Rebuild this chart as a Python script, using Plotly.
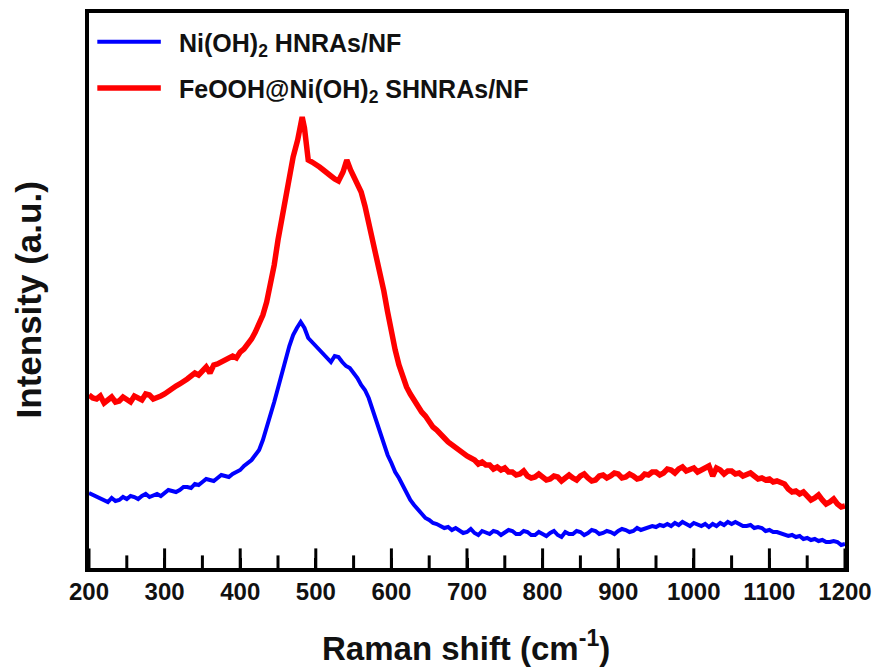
import plotly.graph_objects as go

# Raman spectra: Ni(OH)2 HNRAs/NF and FeOOH@Ni(OH)2 SHNRAs/NF (intensity offset, a.u.)
shift_ni = [200, 205, 210, 215, 220, 225, 230, 235, 240, 245, 250, 255, 260, 265, 270, 275, 280, 285, 290, 295,
            300, 305, 310, 315, 320, 325, 330, 335, 340, 345, 350, 355, 360, 365, 370, 375, 380, 385, 390, 395,
            400, 405, 410, 415, 420, 425, 430, 435, 440, 445, 450, 455, 460, 465, 470, 475, 480, 485, 490, 495,
            500, 505, 510, 515, 520, 525, 530, 535, 540, 545, 550, 555, 560, 565, 570, 575, 580, 585, 590, 595,
            600, 605, 610, 615, 620, 625, 630, 635, 640, 645, 650, 655, 660, 665, 670, 675, 680, 685, 690, 695,
            700, 705, 710, 715, 720, 725, 730, 735, 740, 745, 750, 755, 760, 765, 770, 775, 780, 785, 790, 795,
            800, 805, 810, 815, 820, 825, 830, 835, 840, 845, 850, 855, 860, 865, 870, 875, 880, 885, 890, 895,
            900, 905, 910, 915, 920, 925, 930, 935, 940, 945, 950, 955, 960, 965, 970, 975, 980, 985, 990, 995,
            1000, 1005, 1010, 1015, 1020, 1025, 1030, 1035, 1040, 1045, 1050, 1055, 1060, 1065, 1070, 1075,
            1080, 1085, 1090, 1095, 1100, 1105, 1110, 1115, 1120, 1125, 1130, 1135, 1140, 1145, 1150, 1155,
            1160, 1165, 1170, 1175, 1180, 1185, 1190, 1195, 1200]
intensity_ni = [75, 73, 71, 69, 67, 66, 70, 67, 68, 71, 69, 72, 71, 69, 72, 74, 71, 73, 74, 72,
                75, 78, 77, 76, 78, 81, 81, 80, 84, 83, 86, 89, 88, 87, 90, 93, 92, 91, 94, 96,
                98, 102, 105, 108, 113, 118, 128, 140, 152, 166, 180, 196, 208, 222, 233, 240, 246, 240, 230, 226,
                222, 218, 214, 209, 206, 212, 211, 206, 202, 200, 195, 190, 183, 178, 170, 158, 146, 134, 122, 113,
                105, 96, 90, 82, 75, 68, 63, 59, 55, 50, 48, 45, 44, 42, 40, 41, 38, 40, 38, 35,
                36, 39, 35, 33, 37, 35, 34, 37, 36, 33, 35, 38, 37, 34, 34, 37, 36, 33, 33, 36,
                34, 32, 35, 37, 33, 31, 36, 34, 34, 37, 36, 33, 35, 38, 37, 34, 35, 37, 36, 34,
                37, 39, 38, 36, 37, 40, 38, 39, 40, 42, 41, 43, 42, 44, 42, 45, 43, 46, 44, 42,
                45, 43, 42, 44, 41, 44, 42, 45, 43, 46, 44, 46, 44, 42, 42, 43,
                40, 41, 40, 37, 38, 36, 36, 35, 34, 32, 33, 31, 32, 29, 30, 28,
                29, 27, 28, 26, 26, 27, 26, 23, 24]

shift_fe = [200, 205, 210, 215, 220, 225, 230, 235, 240, 245, 250, 255, 260, 265, 270, 275, 280, 285, 290, 295,
            300, 305, 310, 315, 320, 325, 330, 335, 340, 345, 350, 355, 360, 365, 370, 375, 380, 385, 390, 395,
            400, 405, 410, 415, 420, 425, 430, 435, 440, 445, 450, 455, 460, 465, 470, 476, 479, 482, 485, 487,
            490, 495, 500, 505, 510, 515, 520, 525, 530, 536, 541, 546, 552, 556, 560, 565, 570, 575, 580, 585,
            590, 595, 600, 605, 610, 615, 620, 625, 630, 635, 640, 645, 650, 655, 660, 665, 670, 675, 680, 685,
            690, 695, 700, 705, 710, 715, 720, 725, 730, 735, 740, 745, 750, 755, 760, 765, 770, 775, 780, 785,
            790, 795, 800, 805, 810, 815, 820, 825, 830, 835, 840, 845, 850, 855, 860, 865, 870, 875, 880, 885,
            890, 895, 900, 905, 910, 915, 920, 925, 930, 935, 940, 945, 950, 955, 960, 965, 970, 975, 980, 985,
            990, 995, 1000, 1005, 1010, 1015, 1020, 1025, 1030, 1035, 1040, 1045, 1050, 1055, 1060, 1065,
            1070, 1075, 1080, 1085, 1090, 1095, 1100, 1105, 1110, 1115, 1120, 1125, 1130, 1135, 1140, 1145,
            1150, 1155, 1160, 1165, 1170, 1175, 1180, 1185, 1190, 1195, 1200]
intensity_fe = [173, 170, 169, 172, 165, 168, 171, 166, 167, 171, 169, 166, 172, 170, 168, 174, 173, 169, 170, 172,
                174, 177, 179, 182, 184, 186, 189, 192, 195, 193, 198, 201, 195, 203, 204, 206, 207, 209, 212, 210,
                216, 219, 223, 229, 236, 244, 253, 266, 283, 303, 328, 350, 375, 392, 411, 428, 440, 451, 440, 428,
                408, 406, 404, 401, 398, 394, 392, 389, 387, 396, 408, 398, 388, 383, 376, 362, 346, 330, 313, 296,
                277, 256, 235, 218, 203, 191, 181, 174, 168, 161, 156, 152, 146, 141, 138, 133, 130, 126, 123, 121,
                117, 114, 112, 110, 108, 104, 106, 103, 103, 99, 101, 98, 100, 96, 96, 93, 94, 97, 92, 90,
                91, 94, 91, 88, 89, 92, 91, 87, 90, 93, 90, 88, 92, 94, 90, 87, 88, 92, 93, 90,
                92, 95, 94, 90, 91, 94, 92, 89, 90, 94, 93, 96, 96, 93, 95, 99, 98, 95, 99, 101,
                97, 99, 100, 96, 98, 101, 102, 92, 100, 98, 94, 97, 97, 94, 95, 92,
                93, 95, 92, 89, 90, 88, 89, 86, 87, 85, 84, 79, 76, 77, 74, 76,
                72, 68, 70, 73, 68, 64, 66, 69, 64, 61, 62]

major_ticks = [200, 300, 400, 500, 600, 700, 800, 900, 1000, 1100, 1200]
minor_ticks = [250, 350, 450, 550, 650, 750, 850, 950, 1050, 1150]

series = [
    ("Ni(OH)<sub>2</sub> HNRAs/NF", shift_ni, intensity_ni, "#0000FF", 4),
    ("FeOOH@Ni(OH)<sub>2</sub> SHNRAs/NF", shift_fe, intensity_fe, "#FF0000", 5.5),
]

FONT = "Liberation Sans, Arial, sans-serif"
INK = "#111111"

fig = go.Figure()
for name, xs, ys, color, width in series:
    fig.add_trace(go.Scatter(x=xs, y=ys, mode="lines", name=name,
                             line=dict(color=color, width=width),
                             showlegend=False))

# Inward tick marks on the bottom axis: vertical line markers sitting on the
# baseline, clipped to the plot area so only the upper half shows.
for ticks_at, size in [(major_ticks, 28), (minor_ticks, 18)]:
    fig.add_trace(go.Scatter(
        x=ticks_at, y=[0] * len(ticks_at), mode="markers",
        marker=dict(symbol="line-ns", size=size,
                    line=dict(color="black", width=3)),
        cliponaxis=True, hoverinfo="skip", showlegend=False))

# Hand-placed legend (long line samples) in paper coordinates
legend_rows = [0.948, 0.865]
for (name, _, _, color, width), yrow in zip(series, legend_rows):
    fig.add_shape(type="line", xref="paper", yref="paper",
                  x0=0.011, x1=0.095, y0=yrow, y1=yrow,
                  line=dict(color=color, width=width))
    fig.add_annotation(xref="paper", yref="paper", x=0.116, y=yrow - 0.006,
                       xanchor="left", yanchor="middle", showarrow=False,
                       text="<b>" + name + "</b>",
                       font=dict(family=FONT, size=25, color=INK))

# Axis titles
fig.add_annotation(xref="paper", yref="paper", x=0.499, y=-0.140,
                   xanchor="center", yanchor="middle", showarrow=False,
                   text="<b>Raman shift (cm<sup>-1</sup>)</b>",
                   font=dict(family=FONT, size=33, color=INK))
fig.add_annotation(xref="paper", yref="paper", x=-0.080, y=0.483,
                   xanchor="center", yanchor="middle", showarrow=False,
                   textangle=-90, text="<b>Intensity (a.u.)</b>",
                   font=dict(family=FONT, size=35, color=INK))

fig.update_layout(
    template="none",
    width=877, height=669,
    margin=dict(l=89, r=32, t=13, b=101, autoexpand=False),
    paper_bgcolor="white", plot_bgcolor="white",
    font=dict(family=FONT, color=INK),
    xaxis=dict(
        range=[200, 1200], tickmode="array", tickvals=major_ticks,
        ticks="inside", ticklen=10, tickwidth=3, tickcolor="black",
        showline=True, linewidth=4, linecolor="black", mirror=True,
        showgrid=False, zeroline=False, automargin=False,
        tickfont=dict(family=FONT, size=24, weight="bold", color=INK),
        ticklabelstandoff=-1,
    ),
    yaxis=dict(
        range=[0, 555], showticklabels=False, ticks="",
        showline=True, linewidth=4, linecolor="black", mirror=True,
        showgrid=False, zeroline=False, automargin=False,
    ),
)

fig.write_html("out.html")
